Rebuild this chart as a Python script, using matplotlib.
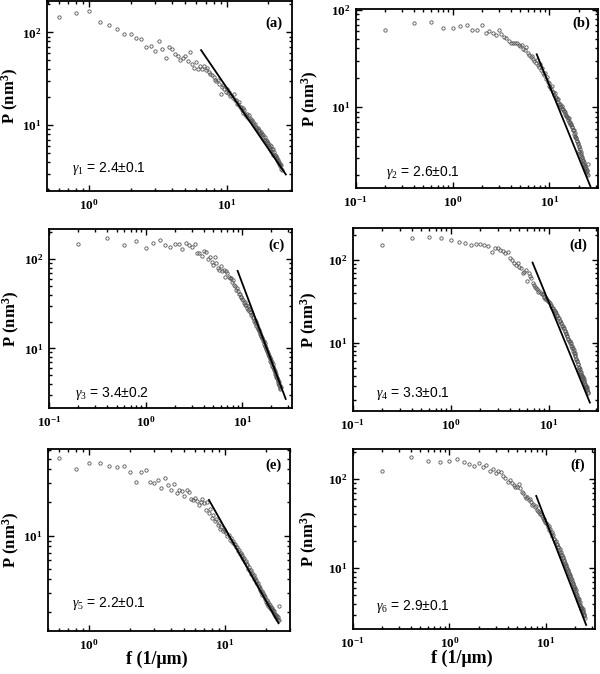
import numpy as np
import matplotlib
matplotlib.use("Agg")
import matplotlib.pyplot as plt
from matplotlib.ticker import LogLocator, FuncFormatter, NullFormatter

plt.rcParams['font.family'] = ['Liberation Serif', 'DejaVu Serif']
plt.rcParams['mathtext.fontset'] = 'custom'
plt.rcParams['mathtext.rm'] = 'Liberation Serif'
plt.rcParams['mathtext.it'] = 'Liberation Serif:italic'
plt.rcParams['mathtext.bf'] = 'Liberation Serif:bold'

# ---------------- data (frequency grid step 0.2 1/um) ----------------
f_step = 0.2
f_start_a = 0.6
f_start_b = 0.2
f_start_c = 0.2
f_start_d = 0.2
f_start_e = 0.6
f_start_f = 0.2

P_a = [148, 160, 172, 128, 119, 108, 97, 95, 86, 84,
       69, 71, 63, 81, 67, 53, 69, 66, 58, 56,
       51, 53, 55, 49, 61, 46, 41, 48, 40, 43,
       40, 43, 39, 41, 37, 36, 35, 33, 30.5, 30,
       31, 27.5, 21.5, 26, 27, 24.5, 23, 24.5, 22, 23,
       20.5, 21, 19.5, 21.5, 18.5, 18.8, 16.8, 17, 17.8, 15.6,
       15.8, 14.6, 15.2, 13.6, 14.6, 13.2, 12.6, 13.2, 11.9, 12.8,
       11.4, 11.9, 11.0, 11.4, 10.3, 10.8, 10.0, 10.2, 9.3, 9.6,
       9.0, 9.4, 8.6, 8.9, 8.2, 8.5, 7.8, 8.1, 7.4, 7.9,
       7.0, 7.4, 6.7, 7.0, 6.4, 6.7, 6.1, 6.4, 5.8, 6.1,
       5.6, 5.9, 5.3, 5.6, 5.1, 5.5, 4.8, 5.1, 4.6, 4.8,
       4.4, 4.7, 4.2, 4.4, 4.0, 4.2, 3.8, 4.0, 3.6, 3.8,
       3.4, 3.7, 3.3]

P_b = [61.5, 72, 75, 65, 64, 68, 69, 61.5, 61.5, 69,
       57, 60.5, 58, 55, 61, 56, 52.5, 51.5, 48, 45.5,
       45, 45.5, 45, 43, 42, 43, 39, 38.5, 41.5, 35.5,
       34, 33, 33.5, 31, 29.5, 28.5, 30.5, 27, 26, 27.5,
       24, 25, 22.5, 21.5, 22.5, 19.5, 20.5, 18, 17.5, 16.5,
       16, 15.2, 16.5, 14.3, 14.2, 13.4, 14, 12.6, 12.4, 12,
       11.4, 12, 10.9, 10.8, 10.3, 10.1, 10.4, 9.6, 9.5, 9.2,
       9.1, 8.6, 8.9, 8.3, 8.2, 7.9, 7.8, 7.4, 7.7, 7.0,
       7.0, 6.7, 6.6, 6.7, 6.2, 6.2, 5.8, 5.8, 5.9, 5.3,
       5.4, 5.0, 5.1, 4.8, 4.8, 4.5, 4.5, 4.2, 4.3, 3.9,
       4.0, 3.6, 3.7, 3.4, 3.5, 3.2, 3.3, 3.0, 3.1, 2.8,
       2.9, 2.6, 2.75, 2.5, 2.6, 2.4, 2.5, 2.25, 2.4, 2.15,
       2.3, 2.05, 2.2, 2.0, 2.6]

P_c = [149, 172, 143, 161, 133, 151, 165, 145, 139, 149,
       149, 129, 151, 145, 139, 147, 119, 118, 109, 125,
       122, 100, 107, 94, 86, 105, 90, 79, 76, 84,
       73, 75, 64, 73, 70, 64, 61, 62, 56, 58,
       51.5, 49.5, 45, 47, 43.5, 41, 40.5, 37.5, 38, 35.5,
       34.5, 32.5, 33, 30.5, 30.5, 28.5, 29.5, 27, 27.5, 25.5,
       25.5, 23.5, 24, 22, 22.5, 20.5, 21, 19, 19.5, 18,
       18.2, 16.6, 17, 15.6, 15.9, 14.6, 14.9, 13.6, 13.9, 12.9,
       13, 12, 12.1, 11.2, 11.5, 10.5, 10.7, 9.8, 10.1, 9.3,
       9.4, 8.7, 8.9, 8.2, 8.3, 7.7, 7.8, 7.2, 7.3, 6.8,
       7.0, 6.4, 6.6, 6.1, 6.1, 5.7, 5.8, 5.4, 5.5, 5.1,
       5.2, 4.8, 4.9, 4.6, 4.6, 4.3, 4.4, 4.1, 4.2, 3.9,
       3.9, 3.6, 3.8, 3.5, 3.7]

P_d = [152, 183, 191, 183, 175, 167, 159, 152, 156, 156,
       152, 148, 126, 138, 138, 132, 128, 120, 126, 105,
       100, 93, 87, 91, 83, 79, 69, 72, 76, 55,
       69, 64, 60, 52, 50, 47.5, 45.5, 44, 41, 42.5,
       40, 38.5, 39, 36, 35.5, 34, 34.5, 32.5, 32, 31,
       30, 28.5, 28, 26.5, 26.5, 24.8, 24.4, 23.2, 22.8, 21.3,
       21, 19.8, 19.6, 18.3, 18.2, 17.2, 17.1, 16, 16.1, 15.2,
       15.0, 14.0, 13.9, 12.9, 12.8, 12.0, 12.0, 11.2, 11.2, 10.5,
       10.5, 9.8, 9.8, 9.2, 9.2, 8.6, 8.6, 8.0, 8.1, 7.4,
       7.4, 6.9, 7.0, 6.4, 6.4, 6.0, 6.0, 5.5, 5.5, 5.0,
       5.1, 4.7, 4.8, 4.4, 4.4, 4.1, 4.2, 3.9, 4.0, 3.7,
       3.8, 3.5, 3.6, 3.3, 3.4, 3.1, 3.2, 2.9, 3.0, 2.8,
       2.9, 2.65, 2.75, 2.5, 2.45]

P_e = [50.7, 40, 45.7, 45.7, 43, 41.7, 43, 37.8, 31, 37.8,
       39.7, 31, 30, 32, 27, 33.4, 29, 26, 29.4, 24.3,
       26, 25.2, 23, 26, 25, 21.4, 21, 22, 20.8, 19,
       20.4, 21.4, 19.8, 17.1, 20.4, 16.2, 17.5, 14.5, 15.5, 13.5,
       14, 12.5, 13, 11.5, 12, 11, 11.5, 11, 10.5, 10,
       10.1, 9.2, 9.4, 8.8, 8.9, 8.3, 8.4, 7.8, 7.9, 7.3,
       7.4, 6.8, 7.0, 6.4, 6.6, 6.1, 6.2, 5.8, 5.9, 5.4,
       5.5, 5.0, 5.2, 4.8, 4.9, 4.5, 4.6, 4.3, 4.4, 4.0,
       4.1, 3.8, 3.9, 3.6, 3.7, 3.4, 3.5, 3.2, 3.3, 3.05,
       3.15, 2.9, 3.0, 2.8, 2.85, 2.65, 2.75, 2.5, 2.6, 2.4,
       2.5, 2.3, 2.4, 2.2, 2.35, 2.15, 2.25, 2.1, 2.2, 2.0,
       2.1, 1.95, 2.05, 1.85, 1.95, 1.8, 1.9, 1.75, 1.85, 1.7,
       1.8, 1.7, 2.3]

P_f = [124, 175, 160, 156, 160, 166, 156, 147, 140, 150,
       135, 143, 124, 131, 116, 124, 121, 108, 102, 93,
       97, 89, 85, 80.7, 82, 88, 79, 72, 69, 64.5,
       61, 63, 58, 59, 55.7, 51, 53, 49, 50, 45,
       44, 43, 41, 40, 38.5, 37, 36, 34.5, 33, 32,
       31.5, 29, 29.5, 27, 27.5, 25, 25.5, 23, 23.5, 21.2,
       21.5, 19.8, 20, 18.4, 18.6, 17.1, 17.3, 16, 16.3, 15,
       15.2, 13.9, 14.2, 12.9, 13.2, 12.0, 12.3, 11.2, 11.5, 10.6,
       10.8, 9.9, 10.1, 9.3, 9.5, 8.7, 8.9, 8.1, 8.3, 7.6,
       7.8, 7.0, 7.3, 6.6, 6.9, 6.2, 6.4, 5.8, 6.0, 5.5,
       5.7, 5.1, 5.3, 4.8, 5.0, 4.5, 4.7, 4.3, 4.5, 4.1,
       4.2, 3.8, 3.9, 3.6, 3.7, 3.5, 3.6, 3.3, 3.5, 3.2,
       3.3, 3.0, 3.1, 2.9, 2.8]

# power-law fit lines: end points (f, P)
fit_f_a, fit_P_a = [6.5, 26.8], [64.4, 2.94]
fit_f_b, fit_P_b = [7.4, 26.5], [34.8, 1.55]
fit_f_c, fit_P_c = [8.95, 28.2], [74, 2.7]
fit_f_d, fit_P_d = [6.8, 26.1], [93, 1.88]
fit_f_e, fit_P_e = [7.6, 24.7], [21.1, 1.59]
fit_f_f, fit_P_f = [7.9, 25.9], [64.5, 2.32]

labels = ['(a)', '(b)', '(c)', '(d)', '(e)', '(f)']
gamma_text = [r'$\gamma_1$ = 2.4±0.1', r'$\gamma_2$ = 2.6±0.1', r'$\gamma_3$ = 3.4±0.2',
              r'$\gamma_4$ = 3.3±0.1', r'$\gamma_5$ = 2.2±0.1', r'$\gamma_6$ = 2.9±0.1']

# ---------------- layout ----------------
W, H = 600, 674
fig = plt.figure(figsize=(W / 100, H / 100), dpi=100)

def px_axes(x0, y0, x1, y1):
    return [x0 / W, 1 - y1 / H, (x1 - x0) / W, (y1 - y0) / H]

panels = [
    dict(box=(47, 1, 292, 191), P=P_a, f0=f_start_a, ff=fit_f_a, fp=fit_P_a,
         xlim=(0.495, 29.7), ylim=(1.95, 218), ylx=-0.105, gpos=(0.10, 0.12), lpos=(0.96, 0.885)),
    dict(box=(355.7, 9.3, 598.3, 187.7), P=P_b, f0=f_start_b, ff=fit_f_b, fp=fit_P_b,
         xlim=(0.1, 32), ylim=(1.5, 100.5), ylx=-0.145, gpos=(0.123, 0.084), lpos=(0.967, 0.92)),
    dict(box=(49.3, 229.3, 292.3, 408.3), P=P_c, f0=f_start_c, ff=fit_f_c, fp=fit_P_c,
         xlim=(0.1, 33), ylim=(2.12, 217), ylx=-0.113, gpos=(0.107, 0.084), lpos=(0.97, 0.912)),
    dict(box=(352.7, 228.3, 598.3, 410.7), P=P_d, f0=f_start_d, ff=fit_f_d, fp=fit_P_d,
         xlim=(0.1, 31.8), ylim=(1.5, 242), ylx=-0.135, gpos=(0.093, 0.095), lpos=(0.953, 0.908)),
    dict(box=(48.3, 449.3, 290, 630.7), P=P_e, f0=f_start_e, ff=fit_f_e, fp=fit_P_e,
         xlim=(0.5, 30), ylim=(1.36, 61), ylx=-0.11, gpos=(0.10, 0.15), lpos=(0.966, 0.913)),
    dict(box=(352.7, 449.3, 595, 629.3), P=P_f, f0=f_start_f, ff=fit_f_f, fp=fit_P_f,
         xlim=(0.1, 32), ylim=(2.07, 215), ylx=-0.135, gpos=(0.096, 0.126), lpos=(0.959, 0.913)),
]

def major_fmt(v, pos):
    e = int(round(np.log10(v)))
    return r'$\mathbf{10^{%d}}$' % e

for i, p in enumerate(panels):
    ax = fig.add_axes(px_axes(*p['box']))
    P = np.array(p['P'], dtype=float)
    f = np.round(p['f0'] + f_step * np.arange(len(P)), 3)
    ax.plot(f, P, linestyle='none', marker='o', ms=2.4, mfc='none',
            mec='#555555', mew=0.6, zorder=2)
    ax.plot(p['ff'], p['fp'], color='black', lw=1.3, zorder=3)
    ax.set_xscale('log')
    ax.set_yscale('log')
    ax.set_xlim(*p['xlim'])
    ax.set_ylim(*p['ylim'])
    for axis in (ax.xaxis, ax.yaxis):
        axis.set_major_locator(LogLocator(base=10, numticks=10))
        axis.set_minor_locator(LogLocator(base=10, subs=np.arange(2, 10), numticks=20))
        axis.set_major_formatter(FuncFormatter(major_fmt))
        axis.set_minor_formatter(NullFormatter())
    ax.tick_params(which='both', direction='in', top=True, right=True, width=1.0)
    ax.tick_params(which='major', length=4, labelsize=9.5)
    ax.tick_params(which='minor', length=2)
    ax.tick_params(axis='x', which='major', pad=5)
    ax.tick_params(axis='y', which='major', pad=4)
    for s in ax.spines.values():
        s.set_linewidth(1.3)
    ax.set_ylabel(r'P (nm$^{\mathbf{3}}$)', fontsize=12, fontweight='bold')
    ax.yaxis.set_label_coords(p['ylx'], 0.5)
    if i >= 4:
        ax.set_xlabel('f (1/μm)', fontsize=13, fontweight='bold')
        ax.xaxis.set_label_coords(0.45, -0.108 if i == 4 else -0.113)
    ax.text(p['gpos'][0], p['gpos'][1], gamma_text[i], transform=ax.transAxes,
            fontsize=10, family='Liberation Sans', ha='left', va='center')
    ax.text(p['lpos'][0], p['lpos'][1], labels[i], transform=ax.transAxes,
            fontsize=10.5, fontweight='bold', ha='right', va='center')

fig.savefig('out.png', dpi=100)
